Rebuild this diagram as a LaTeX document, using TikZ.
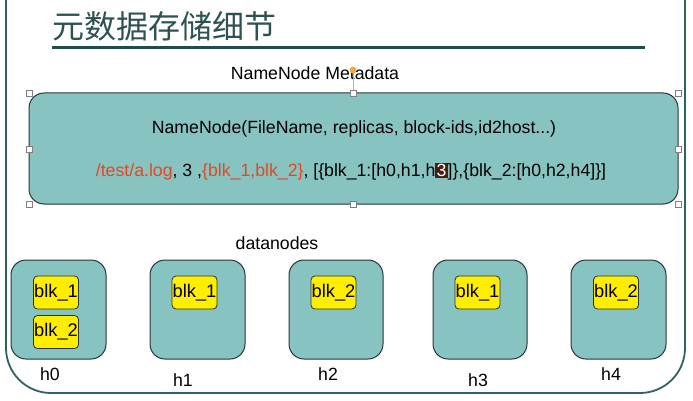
\documentclass[tikz,border=0pt]{standalone}
\usepackage{fontspec}
\setmainfont{Liberation Sans}
\newfontfamily\cjk{Noto Sans CJK SC}
\definecolor{tealfill}{HTML}{86C3C1}
\definecolor{darkline}{HTML}{2A3535}
\definecolor{framec}{HTML}{2F6262}
\definecolor{titlec}{HTML}{2E5252}
\definecolor{rulec}{HTML}{1F4D4D}
\definecolor{orangetxt}{HTML}{E8461E}
\definecolor{hlbg}{HTML}{4A1C12}
\definecolor{blkyellow}{HTML}{FFEE00}
\definecolor{handleor}{HTML}{F0A848}
\begin{document}
\begin{tikzpicture}[x=1pt,y=-1pt,
  txt/.style={font=\fontsize{17.7}{21}\selectfont, inner sep=0pt},
  nnbox/.style={draw=darkline, line width=1pt, fill=tealfill, rounded corners=15pt},
  dnbox/.style={draw=darkline, line width=1pt, fill=tealfill, rounded corners=15pt},
  blkbox/.style={draw=darkline, line width=0.8pt, fill=blkyellow, rounded corners=4pt,
    minimum width=45pt, minimum height=33pt, inner sep=0pt, font=\fontsize{18.3}{21}\selectfont},
  handle/.style={draw=gray, fill=white, line width=0.6pt, minimum size=6pt, inner sep=0pt}]
\useasboundingbox (0,0) rectangle (693,401);
% outer frame
\draw[framec, line width=1.8pt, rounded corners=45pt] (6,-5) -- (6,393) -- (685,393) -- (685,-5);
% title
\node[inner sep=0pt, text=titlec, font=\cjk\fontsize{32}{35}\selectfont, anchor=west] (title) at (52,26) {元数据存储细节};
\draw[rulec, line width=3pt] (52,48) -- (645,48);
% namenode metadata
\node[txt] (mdlabel) at (315,73) {NameNode Metadata};
\draw[nnbox] (29,93) rectangle (678,204);
\node[txt] (l1) at (354,129) {NameNode(FileName, replicas, block-ids,id2host...)};
\node[txt] (l2) at (351,172) {\textcolor{orangetxt}{/test/a.log}, 3 ,\textcolor{orangetxt}{\{blk\_1,blk\_2\}}, [\{blk\_1:[h0,h1,h{\fboxsep=1.2pt\colorbox{hlbg}{\textcolor{white}{3}}}]\},\{blk\_2:[h0,h2,h4]\}]};
% selection handles
\draw[handleor, line width=0.8pt] (353,70) -- (353,93);
\fill[handleor] (353,70) circle (3.5pt);
\foreach \hx/\hy in {29/93,353/93,678/93,29/149,678/149,29/204,353/204,678/204}
  \node[handle] at (\hx,\hy) {};
% datanodes
\node[txt] (dlabel) at (277,243) {datanodes};
\draw[dnbox] (11,260) rectangle (106,359);
\draw[dnbox] (150,260) rectangle (245,359);
\draw[dnbox] (289,260) rectangle (383,359);
\draw[dnbox] (433,260) rectangle (527,359);
\draw[dnbox] (571,260) rectangle (666,359);
\node[blkbox] (b01) at (56,292.5) {blk\_1};
\node[blkbox] (b02) at (56,332) {blk\_2};
\node[blkbox] (b11) at (194.5,292.5) {blk\_1};
\node[blkbox] (b22) at (333.5,292.5) {blk\_2};
\node[blkbox] (b31) at (477.5,292.5) {blk\_1};
\node[blkbox] (b42) at (616,292.5) {blk\_2};
\node[txt] (h0) at (50,374) {h0};
\node[txt] (h1) at (183,380) {h1};
\node[txt] (h2) at (328,374) {h2};
\node[txt] (h3) at (478,380) {h3};
\node[txt] (h4) at (611,374) {h4};
\end{tikzpicture}
\end{document}
